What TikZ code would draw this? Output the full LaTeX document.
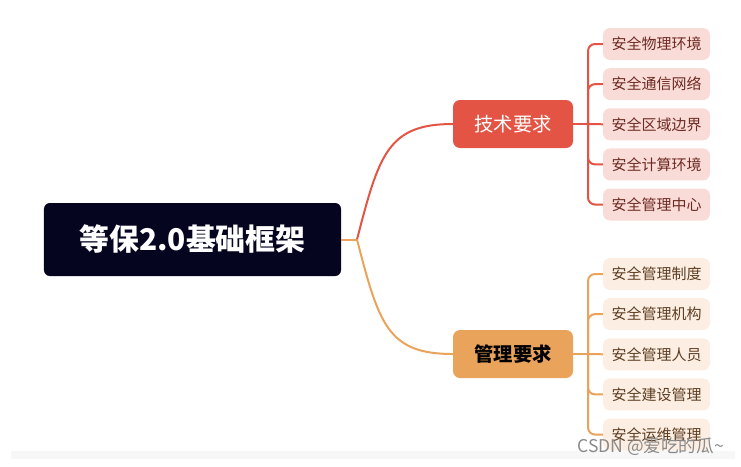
\documentclass[tikz,border=0pt]{standalone}
\usepackage{fontspec}
\setmainfont{Noto Sans CJK SC}
\usepackage{xcolor}
\usepackage{tikz}
\usetikzlibrary{positioning}
\definecolor{RootNavy}{HTML}{05051F}
\definecolor{TechRed}{HTML}{E45445}
\definecolor{MgmtOrange}{HTML}{EAA35B}
\definecolor{TechLeaf}{HTML}{F9DCD8}
\definecolor{MgmtLeaf}{HTML}{FCEEE2}
\definecolor{TechText}{HTML}{6E2A22}
\definecolor{MgmtText}{HTML}{5E3E22}
\definecolor{MarkGray}{HTML}{8A8A8A}

\begin{document}
\begin{tikzpicture}[
    x=0.03cm, y=-0.03cm,
    root/.style={
      rectangle, rounded corners=5pt, fill=RootNavy,
      minimum width=8.91cm, minimum height=2.19cm,
      text=white, font=\fontsize{25.5}{29}\selectfont\bfseries
    },
    branch/.style={
      rectangle, rounded corners=6pt,
      minimum width=3.6cm, minimum height=1.44cm,
      font=\fontsize{16.5}{20}\selectfont
    },
    leaf/.style={
      rectangle, rounded corners=6pt,
      minimum width=3.21cm, minimum height=0.96cm,
      font=\fontsize{12.8}{15}\selectfont
    },
    redline/.style={draw=TechRed, line width=1.7pt},
    orangeline/.style={draw=MgmtOrange, line width=1.7pt}
  ]
    \useasboundingbox (0,0) rectangle (741,466);
    \fill[black!3] (11,451) rectangle (735,459);

    %% Root
    \node[root] (root) at (192.5,239.5) {等保2.0基础框架};
    \coordinate (rj) at (357,239.5);

    %% Branches
    \node[branch, fill=TechRed, text=white] (tech) at (513,124) {技术要求};
    \node[branch, fill=MgmtOrange, text=black, font=\fontsize{16.5}{20}\selectfont\bfseries] (mgmt) at (513,354) {管理要求};

    %% Technical leaves
    \node[leaf, fill=TechLeaf, text=TechText] (t1) at (656.5,44) {安全物理环境};
    \node[leaf, fill=TechLeaf, text=TechText, below=0.23cm of t1] (t2) {安全通信网络};
    \node[leaf, fill=TechLeaf, text=TechText, below=0.23cm of t2] (t3) {安全区域边界};
    \node[leaf, fill=TechLeaf, text=TechText, below=0.23cm of t3] (t4) {安全计算环境};
    \node[leaf, fill=TechLeaf, text=TechText, below=0.23cm of t4] (t5) {安全管理中心};

    %% Management leaves
    \node[leaf, fill=MgmtLeaf, text=MgmtText] (m1) at (656.5,274) {安全管理制度};
    \node[leaf, fill=MgmtLeaf, text=MgmtText, below=0.23cm of m1] (m2) {安全管理机构};
    \node[leaf, fill=MgmtLeaf, text=MgmtText, below=0.23cm of m2] (m3) {安全管理人员};
    \node[leaf, fill=MgmtLeaf, text=MgmtText, below=0.23cm of m3] (m4) {安全建设管理};
    \node[leaf, fill=MgmtLeaf, text=MgmtText, below=0.23cm of m4] (m5) {安全运维管理};

    %% Draw connectors
    \draw[orangeline] (root.east) -- (rj);
    \draw[redline] (rj) .. controls +(22,-85) and +(-65,0) .. (tech.west);
    \draw[orangeline] (rj) .. controls +(22,85) and +(-65,0) .. (mgmt.west);

    \coordinate (tj) at (588,124);
    \coordinate (mj) at (588,354);
    \draw[redline] (tech.east) -- (tj);
    \draw[orangeline] (mgmt.east) -- (mj);
    \draw[redline, rounded corners=6pt] (tj) |- (t1.west);
    \draw[redline, rounded corners=6pt] (tj) |- (t2.west);
    \draw[redline] (tj) -- (t3.west);
    \draw[redline, rounded corners=6pt] (tj) |- (t4.west);
    \draw[redline, rounded corners=6pt] (tj) |- (t5.west);
    \draw[orangeline, rounded corners=6pt] (mj) |- (m1.west);
    \draw[orangeline, rounded corners=6pt] (mj) |- (m2.west);
    \draw[orangeline] (mj) -- (m3.west);
    \draw[orangeline, rounded corners=6pt] (mj) |- (m4.west);
    \draw[orangeline, rounded corners=6pt] (mj) |- (m5.west);

    %% Watermark
    \node[text=MarkGray, font=\fontsize{15}{17}\selectfont, anchor=east] (mark) at (728,447) {CSDN @爱吃的瓜\textasciitilde};
  \end{tikzpicture}
\end{document}
